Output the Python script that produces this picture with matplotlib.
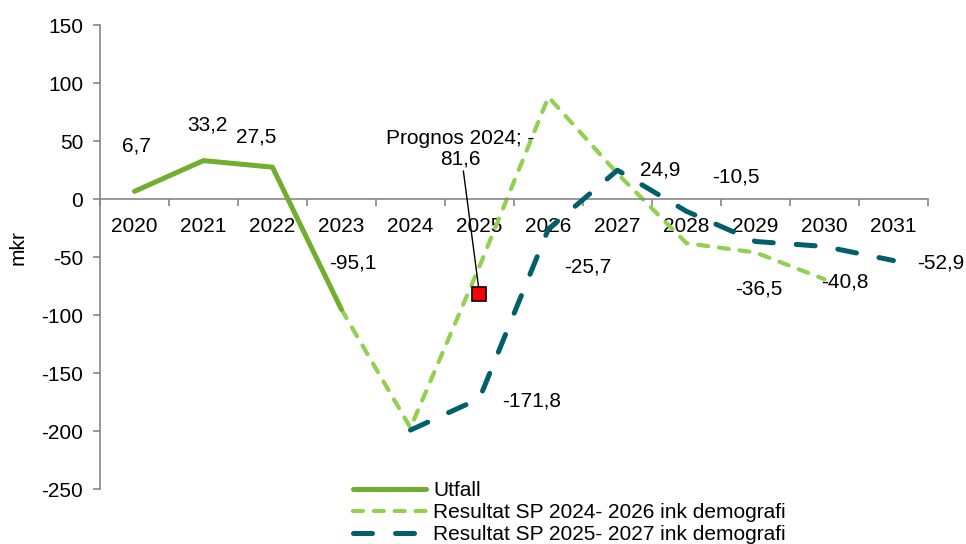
import numpy as np
import matplotlib
matplotlib.use('Agg')
import matplotlib.pyplot as plt

plt.rcParams['font.family'] = ['Liberation Sans', 'DejaVu Sans']
plt.rcParams['axes.unicode_minus'] = False

nan = np.nan
years = ['2020', '2021', '2022', '2023', '2024', '2025', '2026', '2027', '2028', '2029', '2030', '2031']
utfall = [6.7, 33.2, 27.5, -95.1, nan, nan, nan, nan, nan, nan, nan, nan]
sp2024 = [nan, nan, nan, -95.1, -197, -58, 88, 22, -38, -46, -69, nan]
sp2025 = [nan, nan, nan, nan, -199, -171.8, -25.7, 24.9, -10.5, -36.5, -40.8, -52.9]
prognos = [nan, nan, nan, nan, nan, -81.6, nan, nan, nan, nan, nan, nan]

# etiketter som visas (index, serie)
utfall_lbl = [0, 1, 2, 3]
sp2025_lbl = [5, 6, 7, 8, 9, 10, 11]
# förskjutning av etiketter i pixlar (x, y uppåt)
utfall_off = [(2, 45), (4, 36), (-16, 30), (11, 46)]
sp2025_off = [(52, -2), (39, -38), (43, 0), (49, 34), (3, -48), (20, -36), (47, -2)]

c_utfall = '#72AE2E'
c_sp24 = '#92D050'
c_sp25 = '#005F6B'
c_axis = '#868686'

fs = 15
x = np.arange(len(years))

fig = plt.figure(figsize=(9.66, 5.44), dpi=100)
ax = fig.add_axes([0.1035, 0.1006, 0.8571, 0.8534])

ax.plot(x, sp2024, color=c_sp24, lw=3.0, dashes=(2.4, 2.6), dash_capstyle='round',
        solid_capstyle='round', label='Resultat SP 2024- 2026 ink demografi', zorder=2)
ax.plot(x, sp2025, color=c_sp25, lw=3.6, dashes=(3.8, 4.6), dash_capstyle='round',
        label='Resultat SP 2025- 2027 ink demografi', zorder=3)
ax.plot(x, utfall, color=c_utfall, lw=3.6, solid_capstyle='round', label='Utfall', zorder=4)
ax.plot(x, prognos, 's', color='#FF0000', markeredgecolor='black', markersize=10,
        markeredgewidth=1.2, zorder=6)

def fmt(v):
    return ('%.1f' % v).replace('.', ',')

for i, (dx, dy) in zip(utfall_lbl, utfall_off):
    ax.annotate(fmt(utfall[i]), (x[i], utfall[i]), xytext=(dx, dy), textcoords='offset pixels',
                ha='center', va='center', fontsize=fs)
for i, (dx, dy) in zip(sp2025_lbl, sp2025_off):
    ax.annotate(fmt(sp2025[i]), (x[i], sp2025[i]), xytext=(dx, dy), textcoords='offset pixels',
                ha='center', va='center', fontsize=fs)

ax.annotate('Prognos 2024; -\n' + fmt(prognos[5]).lstrip('-'), (x[5], prognos[5]),
            xytext=(-19, 145), textcoords='offset pixels', ha='center', va='center',
            fontsize=fs, linespacing=1.05,
            arrowprops=dict(arrowstyle='-', color='black', lw=1, shrinkA=0, shrinkB=0))

ax.set_xlim(-0.5, len(years) - 0.5)
ax.set_ylim(-250, 150)
ax.set_yticks(np.arange(-250, 151, 50))
ax.set_xticks(np.arange(-0.5, len(years), 1.0))
ax.set_xticklabels([])
ax.set_xticks(x, minor=True)
ax.set_xticklabels(years, minor=True)

ax.spines['top'].set_visible(False)
ax.spines['right'].set_visible(False)
ax.spines['bottom'].set_position(('data', 0))
for s in ('left', 'bottom'):
    ax.spines[s].set_color(c_axis)
    ax.spines[s].set_linewidth(1.2)

ax.tick_params(axis='y', direction='out', length=5, width=1.2, color=c_axis, labelsize=fs, pad=7)
ax.tick_params(axis='x', which='major', direction='out', length=5, width=1.2, color=c_axis)
ax.tick_params(axis='x', which='minor', length=0, labelsize=fs, pad=13)

ax.set_ylabel('mkr', fontsize=fs)
ax.yaxis.set_label_coords(-0.087, 0.52)

handles, labels = ax.get_legend_handles_labels()
order = [2, 0, 1]
leg = fig.legend([handles[k] for k in order], [labels[k] for k in order],
                 loc='upper left', bbox_to_anchor=(0.3654, 0.1158), frameon=False,
                 fontsize=fs, handlelength=3.5, handletextpad=0.35, labelspacing=0.15,
                 borderpad=0, borderaxespad=0)

fig.savefig('out.png', dpi=100)
